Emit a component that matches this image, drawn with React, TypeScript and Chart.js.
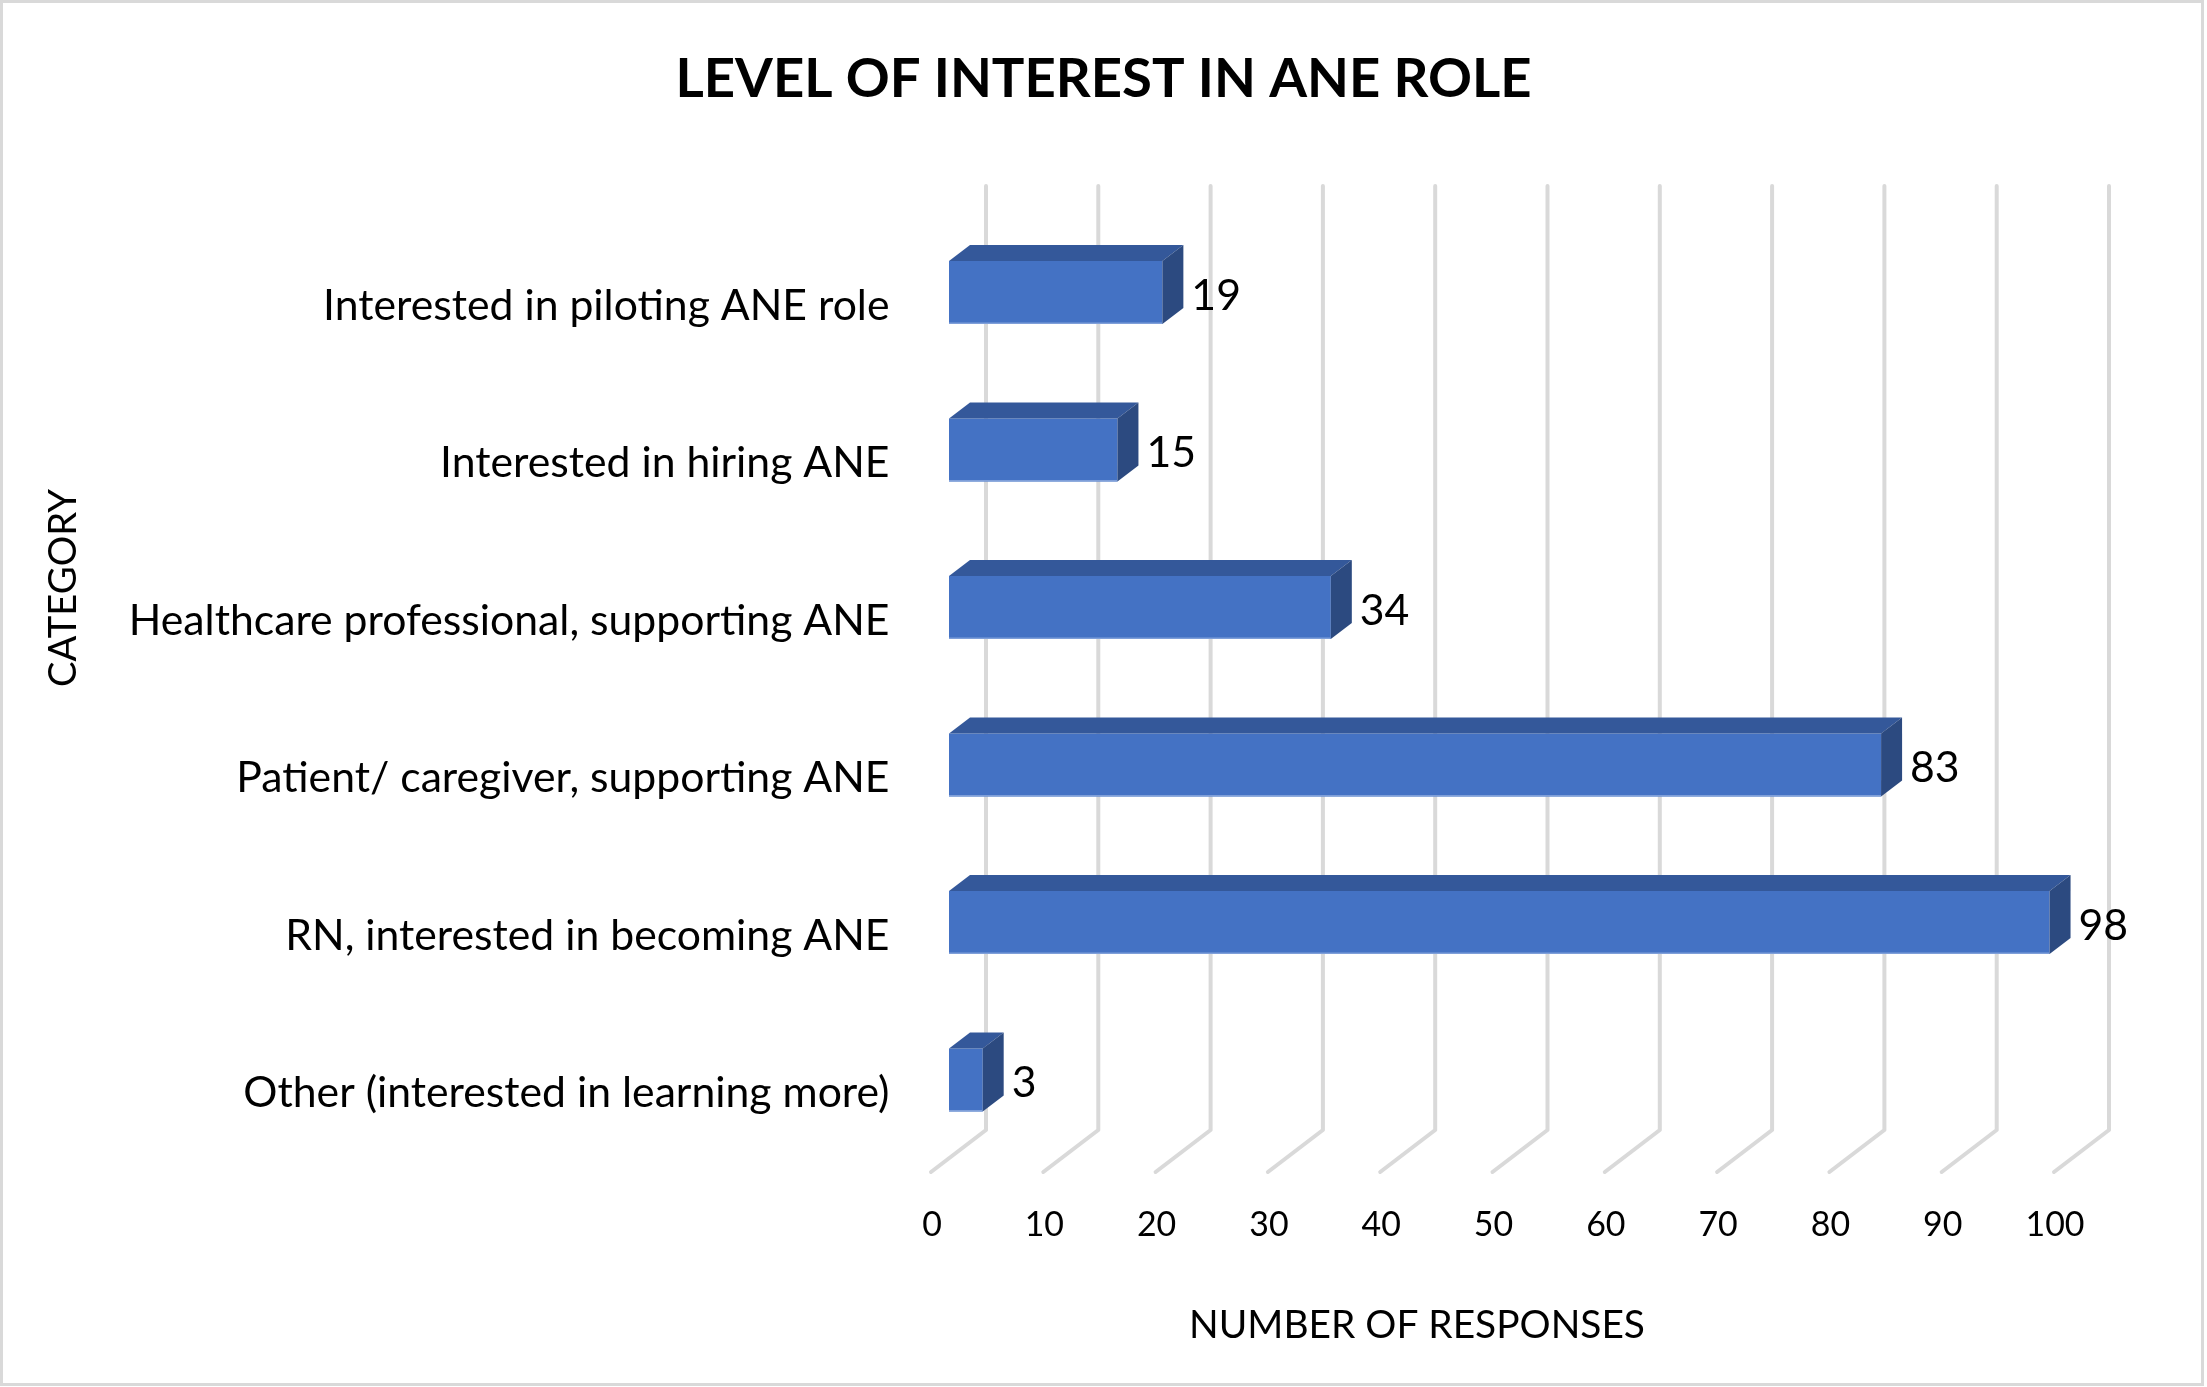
import React, { useEffect, useRef } from 'react';
import { Chart, registerables } from 'chart.js';

Chart.register(...registerables);

// ---- data ----
const TITLE = 'LEVEL OF INTEREST IN ANE ROLE';
const X_TITLE = 'NUMBER OF RESPONSES';
const Y_TITLE = 'CATEGORY';
const categories = [
  'Interested in piloting ANE role',
  'Interested in hiring ANE',
  'Healthcare professional, supporting ANE',
  'Patient/ caregiver, supporting ANE',
  'RN, interested in becoming ANE',
  'Other (interested in learning more)',
];
const responses = [19, 15, 34, 83, 98, 3];
const X_MIN = 0;
const X_MAX = 100;
const X_STEP = 10;

// ---- layout / style ----
const W = 2207;
const H = 1387;
const FONT = 'Lato';
const PLOT_LEFT = 949;
const PLOT_RIGHT = 2072;
const PLOT_TOP = 213.75;
const PLOT_BOTTOM = 1158.75;
const BAR_DX = 21;
const BAR_DY = 16;
const WALL_DX = 37;
const GRID_TOP = 186;
const WALL_BOTTOM = 1130;
const FLOOR_DX = -55;
const FLOOR_DY = 42;
const FRONT = '#4472C4';
const TOPC = '#34589A';
const SIDE = '#2C4A80';
const EDGE = '#7f9fd9';
const GRID = '#d9d9d9';
const CAP = 0.72;

function fitSize(text: string, weight: string, target: number) {
  const c = document.createElement('canvas').getContext('2d')!;
  c.font = `${weight} 100px ${FONT}`;
  return (100 * target) / c.measureText(text).width;
}

export default function App() {
  const ref = useRef<HTMLCanvasElement>(null);

  useEffect(() => {
    const canvas = ref.current!;
    const catSize =
      (fitSize('Healthcare professional, supporting ANE', 'normal', 753) +
        fitSize('Other (interested in learning more)', 'normal', 653)) / 2;
    const tickSize = fitSize('100', 'normal', 59);
    const titleSize = fitSize(TITLE, 'bold', 856);
    const xTitleSize = fitSize(X_TITLE, 'normal', 456);
    const yTitleSize = fitSize(Y_TITLE, 'normal', 198);

    const plugin = {
      id: 'threeD',
      beforeDraw(chart: any) {
        const ctx = chart.ctx;
        ctx.save();
        ctx.fillStyle = '#ffffff';
        ctx.fillRect(0, 0, W, H);
        ctx.strokeStyle = GRID;
        ctx.lineWidth = 3;
        ctx.strokeRect(1.5, 1.5, 2201, 1383);
        ctx.restore();
      },
      beforeDatasetsDraw(chart: any) {
        const ctx = chart.ctx;
        const xs = chart.scales.x;
        ctx.save();
        ctx.strokeStyle = GRID;
        ctx.lineWidth = 4;
        ctx.lineJoin = 'round';
        ctx.lineCap = 'round';
        for (let v = X_MIN; v <= X_MAX; v += X_STEP) {
          const xb = xs.getPixelForValue(v) + WALL_DX;
          ctx.beginPath();
          ctx.moveTo(xb, GRID_TOP);
          ctx.lineTo(xb, WALL_BOTTOM);
          ctx.lineTo(xb + FLOOR_DX, WALL_BOTTOM + FLOOR_DY);
          ctx.stroke();
        }
        ctx.restore();
      },
      afterDatasetsDraw(chart: any) {
        const ctx = chart.ctx;
        const meta = chart.getDatasetMeta(0);
        ctx.save();
        meta.data.forEach((bar: any, i: number) => {
          const { x, y, base, height } = bar.getProps(['x', 'y', 'base', 'height'], true);
          const top = y - height / 2;
          const bottom = y + height / 2;
          // bottom edge highlight
          ctx.fillStyle = EDGE;
          ctx.fillRect(base, bottom - 1.5, x - base, 1.5);
          // top face
          ctx.fillStyle = TOPC;
          ctx.beginPath();
          ctx.moveTo(base, top);
          ctx.lineTo(x, top);
          ctx.lineTo(x + BAR_DX, top - BAR_DY);
          ctx.lineTo(base + BAR_DX, top - BAR_DY);
          ctx.closePath();
          ctx.fill();
          // side face
          ctx.fillStyle = SIDE;
          ctx.beginPath();
          ctx.moveTo(x, top);
          ctx.lineTo(x + BAR_DX, top - BAR_DY);
          ctx.lineTo(x + BAR_DX, bottom - BAR_DY);
          ctx.lineTo(x, bottom);
          ctx.closePath();
          ctx.fill();
          // label
          ctx.fillStyle = '#000000';
          ctx.font = `normal ${catSize}px ${FONT}`;
          ctx.textAlign = 'left';
          ctx.textBaseline = 'alphabetic';
          ctx.fillText(String(responses[i]), x + BAR_DX + 8, y + 2 + (CAP * catSize) / 2);
        });
        ctx.restore();
      },
      afterDraw(chart: any) {
        const ctx = chart.ctx;
        ctx.save();
        ctx.fillStyle = '#000000';
        ctx.textAlign = 'center';
        ctx.textBaseline = 'alphabetic';
        ctx.font = `bold ${titleSize}px ${FONT}`;
        ctx.fillText(TITLE, 1103.5, 77 + (CAP * titleSize) / 2);
        ctx.font = `normal ${xTitleSize}px ${FONT}`;
        ctx.fillText(X_TITLE, 1417, 1324 + (CAP * xTitleSize) / 2);
        ctx.translate(62 + (CAP * yTitleSize) / 2, 588);
        ctx.rotate(-Math.PI / 2);
        ctx.font = `normal ${yTitleSize}px ${FONT}`;
        ctx.fillText(Y_TITLE, 0, 0);
        ctx.restore();
      },
    };

    const chart = new Chart(canvas, {
      type: 'bar',
      data: {
        labels: categories,
        datasets: [
          {
            data: responses,
            backgroundColor: FRONT,
            borderWidth: 0,
            barPercentage: 0.4,
            categoryPercentage: 1,
          },
        ],
      },
      options: {
        indexAxis: 'y',
        responsive: false,
        maintainAspectRatio: false,
        animation: false,
        layout: { padding: { top: PLOT_TOP, right: W - PLOT_RIGHT, left: 0, bottom: 0 } },
        plugins: {
          legend: { display: false },
          tooltip: { enabled: false },
          title: { display: false },
        },
        scales: {
          x: {
            min: X_MIN,
            max: X_MAX,
            ticks: {
              stepSize: X_STEP,
              labelOffset: -17,
              padding: 1224 - PLOT_BOTTOM - 0.6 * tickSize + 1,
              font: { family: FONT, size: tickSize },
              color: '#000000',
              maxRotation: 0,
            },
            grid: { display: false, drawTicks: false },
            border: { display: false },
            afterFit: (s: any) => {
              s.height = H - PLOT_BOTTOM;
            },
          },
          y: {
            ticks: {
              padding: PLOT_LEFT - 889.5,
              labelOffset: 13.5,
              font: { family: FONT, size: catSize },
              color: '#000000',
            },
            grid: { display: false, drawTicks: false },
            border: { display: false },
            afterFit: (s: any) => {
              s.width = PLOT_LEFT;
            },
          },
        },
      },
      plugins: [plugin],
    } as any);

    return () => chart.destroy();
  }, []);

  return (
    <div style={{ position: 'fixed', left: 0, top: 0, width: W, height: H, background: '#fff' }}>
      <canvas ref={ref} width={W} height={H} style={{ display: 'block', width: W, height: H }} />
    </div>
  );
}
